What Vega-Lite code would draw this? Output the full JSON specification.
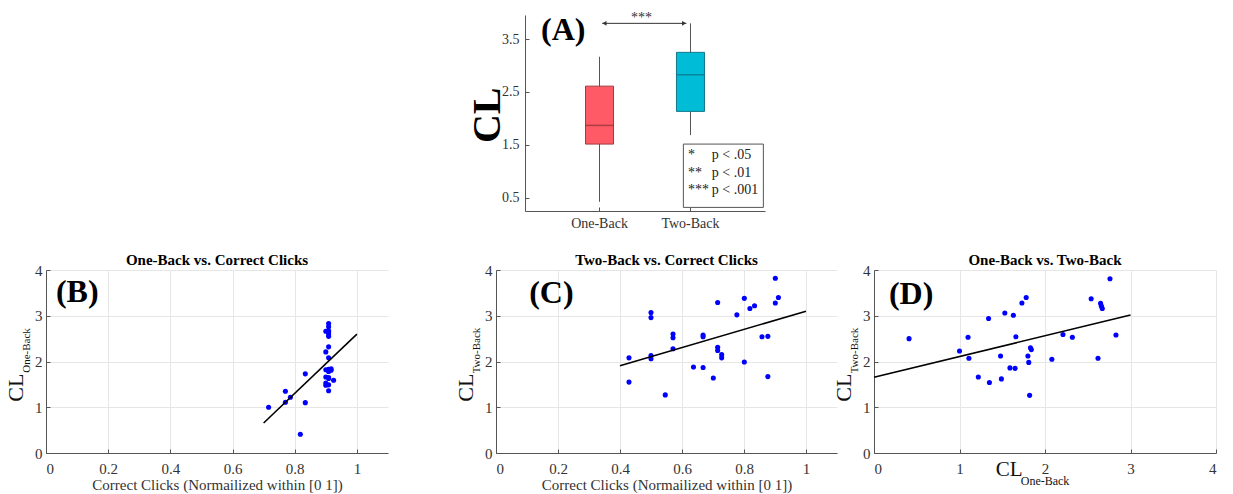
{
  "$schema": "https://vega.github.io/schema/vega-lite/v6.json",
  "background": "white",
  "padding": {"left": 4, "top": 10, "right": 5, "bottom": 5},
  "spacing": 23,
  "datasets": {
    "boxes": [
      {"task": "One-Back", "min": 0.424, "q1": 1.515, "median": 1.868, "q3": 2.61, "max": 3.166},
      {"task": "Two-Back", "min": 1.685, "q1": 2.133, "median": 2.825, "q3": 3.249, "max": 3.797}
    ],
    "B": [
      {"clicks": 0.716, "cl": 1.00}, {"clicks": 0.77, "cl": 1.35}, {"clicks": 0.77, "cl": 1.11},
      {"clicks": 0.786, "cl": 1.22}, {"clicks": 0.834, "cl": 1.73}, {"clicks": 0.834, "cl": 1.10},
      {"clicks": 0.818, "cl": 0.41},
      {"clicks": 0.909, "cl": 2.83}, {"clicks": 0.909, "cl": 2.76}, {"clicks": 0.909, "cl": 2.67},
      {"clicks": 0.900, "cl": 2.66}, {"clicks": 0.909, "cl": 2.65}, {"clicks": 0.909, "cl": 2.60},
      {"clicks": 0.909, "cl": 2.55}, {"clicks": 0.909, "cl": 2.32}, {"clicks": 0.900, "cl": 2.21},
      {"clicks": 0.909, "cl": 2.08}, {"clicks": 0.917, "cl": 1.84}, {"clicks": 0.909, "cl": 1.83},
      {"clicks": 0.900, "cl": 1.82}, {"clicks": 0.917, "cl": 1.81}, {"clicks": 0.909, "cl": 1.80},
      {"clicks": 0.909, "cl": 1.78}, {"clicks": 0.900, "cl": 1.66}, {"clicks": 0.909, "cl": 1.65},
      {"clicks": 0.909, "cl": 1.63}, {"clicks": 0.925, "cl": 1.59}, {"clicks": 0.900, "cl": 1.53},
      {"clicks": 0.909, "cl": 1.49}, {"clicks": 0.900, "cl": 1.48}, {"clicks": 0.909, "cl": 1.36}
    ],
    "B_fit": [{"clicks": 0.7, "cl": 0.655}, {"clicks": 1.0, "cl": 2.60}],
    "C": [
      {"clicks": 0.901, "cl": 3.82}, {"clicks": 0.911, "cl": 3.40}, {"clicks": 0.901, "cl": 3.28},
      {"clicks": 0.715, "cl": 3.29}, {"clicks": 0.801, "cl": 3.38}, {"clicks": 0.819, "cl": 3.16},
      {"clicks": 0.834, "cl": 3.22}, {"clicks": 0.777, "cl": 3.02}, {"clicks": 0.5, "cl": 3.07},
      {"clicks": 0.5, "cl": 2.96}, {"clicks": 0.571, "cl": 2.60}, {"clicks": 0.571, "cl": 2.52},
      {"clicks": 0.668, "cl": 2.58}, {"clicks": 0.668, "cl": 2.54}, {"clicks": 0.858, "cl": 2.54},
      {"clicks": 0.877, "cl": 2.55}, {"clicks": 0.571, "cl": 2.28}, {"clicks": 0.715, "cl": 2.31},
      {"clicks": 0.715, "cl": 2.24}, {"clicks": 0.728, "cl": 2.15}, {"clicks": 0.728, "cl": 2.08},
      {"clicks": 0.429, "cl": 2.08}, {"clicks": 0.5, "cl": 2.13}, {"clicks": 0.5, "cl": 2.06},
      {"clicks": 0.801, "cl": 1.99}, {"clicks": 0.637, "cl": 1.88}, {"clicks": 0.668, "cl": 1.87},
      {"clicks": 0.701, "cl": 1.64}, {"clicks": 0.877, "cl": 1.67}, {"clicks": 0.429, "cl": 1.55},
      {"clicks": 0.546, "cl": 1.27}
    ],
    "C_fit": [{"clicks": 0.4, "cl": 1.905}, {"clicks": 1.0, "cl": 3.10}],
    "D": [
      {"one_back": 0.41, "two_back": 2.50}, {"one_back": 1.00, "two_back": 2.23}, {"one_back": 1.10, "two_back": 2.53},
      {"one_back": 1.11, "two_back": 2.07}, {"one_back": 1.22, "two_back": 1.66}, {"one_back": 1.34, "two_back": 2.94},
      {"one_back": 1.35, "two_back": 1.54}, {"one_back": 1.48, "two_back": 2.12}, {"one_back": 1.49, "two_back": 1.62},
      {"one_back": 1.53, "two_back": 3.06}, {"one_back": 1.59, "two_back": 1.86}, {"one_back": 1.63, "two_back": 3.01},
      {"one_back": 1.65, "two_back": 1.85}, {"one_back": 1.66, "two_back": 2.54}, {"one_back": 1.73, "two_back": 3.28},
      {"one_back": 1.78, "two_back": 3.40}, {"one_back": 1.80, "two_back": 2.12}, {"one_back": 1.81, "two_back": 1.98},
      {"one_back": 1.82, "two_back": 1.26}, {"one_back": 1.83, "two_back": 2.30}, {"one_back": 1.84, "two_back": 2.26},
      {"one_back": 2.08, "two_back": 2.05}, {"one_back": 2.21, "two_back": 2.59}, {"one_back": 2.32, "two_back": 2.53},
      {"one_back": 2.54, "two_back": 3.37}, {"one_back": 2.62, "two_back": 2.07}, {"one_back": 2.65, "two_back": 3.27},
      {"one_back": 2.66, "two_back": 3.21}, {"one_back": 2.67, "two_back": 3.16}, {"one_back": 2.76, "two_back": 3.81},
      {"one_back": 2.83, "two_back": 2.58}
    ],
    "D_fit": [{"one_back": 0, "two_back": 1.657}, {"one_back": 3.0, "two_back": 3.015}]
  },
  "vconcat": [
    {
      "bounds": "flush",
      "spacing": 37,
      "hconcat": [
        {"width": 442, "height": 196, "data": {"values": []}, "mark": "point"},
        {
          "width": 240,
          "height": 196,
          "resolve": {"scale": {"x": "independent"}, "axis": {"x": "independent"}},
          "layer": [
            {
              "layer": [
                {
                  "data": {"name": "boxes"},
                  "mark": {"type": "rule", "color": "#555", "strokeWidth": 1},
                  "encoding": {
                    "x": {"field": "task", "type": "nominal", "sort": null,
                      "scale": {"type": "band", "paddingInner": 0.692, "paddingOuter": 0.665},
                      "axis": {"title": null, "labelAngle": 0, "labelFontSize": 14, "tickSize": -4, "labelPadding": 9, "grid": false}},
                    "y": {"field": "min", "type": "quantitative",
                      "scale": {"domain": [0.25, 3.955], "nice": false, "zero": false},
                      "axis": {"title": null, "values": [0.5, 1, 1.5, 2, 2.5, 3, 3.5], "grid": false, "labelFontSize": 14, "tickSize": -4, "labelPadding": 10,
                        "labelExpr": "datum.value % 1 == 0 ? '' : format(datum.value, '.1f')"}},
                    "y2": {"field": "max"}
                  }
                },
                {
                  "data": {"name": "boxes"},
                  "mark": {"type": "bar", "strokeWidth": 1},
                  "encoding": {
                    "x": {"field": "task", "type": "nominal", "sort": null},
                    "y": {"field": "q1", "type": "quantitative"},
                    "y2": {"field": "q3"},
                    "fill": {"field": "task", "type": "nominal", "legend": null, "scale": {"domain": ["One-Back", "Two-Back"], "range": ["#ff5a65", "#00bcd6"]}},
                    "stroke": {"field": "task", "type": "nominal", "legend": null, "scale": {"domain": ["One-Back", "Two-Back"], "range": ["#9a3c42", "#16798a"]}}
                  }
                },
                {
                  "data": {"name": "boxes"},
                  "mark": {"type": "tick", "orient": "horizontal", "size": 28, "thickness": 1.5},
                  "encoding": {
                    "x": {"field": "task", "type": "nominal", "sort": null},
                    "y": {"field": "median", "type": "quantitative"},
                    "color": {"field": "task", "type": "nominal", "legend": null, "scale": {"domain": ["One-Back", "Two-Back"], "range": ["#8a2f36", "#0f6f80"]}}
                  }
                }
              ]
            },
            {
              "layer": [
                {
                  "data": {"values": [{}]},
                  "mark": {"type": "rect", "fill": "white", "stroke": "#555", "strokeWidth": 1},
                  "encoding": {
                    "x": {"datum": 1.927, "type": "quantitative", "scale": {"domain": [0.187, 2.824], "nice": false, "zero": false}, "axis": null},
                    "x2": {"datum": 2.806},
                    "y": {"datum": 1.515, "type": "quantitative"},
                    "y2": {"datum": 0.318}
                  }
                },
                {
                  "data": {"values": [{}]},
                  "mark": {"type": "text", "text": ["*", "**", "***"], "font": "Liberation Serif", "fontSize": 14, "align": "left", "baseline": "middle", "lineHeight": 17.5, "color": "#222"},
                  "encoding": {
                    "x": {"datum": 1.978, "type": "quantitative", "axis": null},
                    "y": {"datum": 1.307, "type": "quantitative"}
                  }
                },
                {
                  "data": {"values": [{}]},
                  "mark": {"type": "text", "text": ["p < .05", "p < .01", "p < .001"], "font": "Liberation Serif", "fontSize": 14, "align": "left", "baseline": "middle", "lineHeight": 17.5, "color": "#222"},
                  "encoding": {
                    "x": {"datum": 2.239, "type": "quantitative", "axis": null},
                    "y": {"datum": 1.307, "type": "quantitative"}
                  }
                },
                {
                  "data": {"values": [{}]},
                  "mark": {"type": "rule", "color": "#333", "strokeWidth": 1},
                  "encoding": {
                    "x": {"datum": 1.035, "type": "quantitative", "axis": null},
                    "x2": {"datum": 1.96},
                    "y": {"datum": 3.797, "type": "quantitative"}
                  }
                },
                {
                  "data": {"values": [{}]},
                  "mark": {"type": "point", "shape": "triangle-left", "filled": true, "size": 22, "color": "#333", "opacity": 1},
                  "encoding": {
                    "x": {"datum": 1.06, "type": "quantitative", "axis": null},
                    "y": {"datum": 3.797, "type": "quantitative"}
                  }
                },
                {
                  "data": {"values": [{}]},
                  "mark": {"type": "point", "shape": "triangle-right", "filled": true, "size": 22, "color": "#333", "opacity": 1},
                  "encoding": {
                    "x": {"datum": 1.935, "type": "quantitative", "axis": null},
                    "y": {"datum": 3.797, "type": "quantitative"}
                  }
                },
                {
                  "data": {"values": [{}]},
                  "mark": {"type": "text", "text": "***", "font": "Liberation Serif", "fontSize": 14, "align": "center", "baseline": "middle", "color": "#333"},
                  "encoding": {
                    "x": {"datum": 1.467, "type": "quantitative", "axis": null},
                    "y": {"datum": 3.905, "type": "quantitative"}
                  }
                },
                {
                  "data": {"values": [{}]},
                  "mark": {"type": "text", "text": "(A)", "font": "Liberation Serif", "fontSize": 32, "fontWeight": "bold", "align": "left", "baseline": "alphabetic", "color": "#000"},
                  "encoding": {
                    "x": {"datum": 0.363, "type": "quantitative", "axis": null},
                    "y": {"datum": 3.48, "type": "quantitative"}
                  }
                },
                {
                  "data": {"values": [{}]},
                  "mark": {"type": "text", "text": "CL", "font": "Liberation Serif", "fontSize": 40, "fontWeight": "bold", "align": "center", "baseline": "middle", "angle": 270, "color": "#000"},
                  "encoding": {
                    "x": {"datum": -0.225, "type": "quantitative", "axis": null},
                    "y": {"datum": 2.06, "type": "quantitative"}
                  }
                }
              ]
            }
          ]
        }
      ]
    },
    {
      "bounds": "flush",
      "spacing": 37,
      "hconcat": [
        {
          "width": 342,
          "height": 183,
          "title": {"text": "One-Back vs. Correct Clicks"},
          "layer": [
            {
              "data": {"name": "B"},
              "mark": {"type": "circle", "size": 26, "color": "#0000ff", "opacity": 1},
              "encoding": {
                "x": {"field": "clicks", "type": "quantitative", "scale": {"domain": [0, 1.1], "nice": false},
                  "axis": {"title": "Correct Clicks (Normailized within [0 1])", "values": [0, 0.2, 0.4, 0.6, 0.8, 1], "labelExpr": "'' + datum.value"}},
                "y": {"field": "cl", "type": "quantitative", "scale": {"domain": [0, 4], "nice": false},
                  "axis": {"title": null, "values": [0, 1, 2, 3, 4], "labelExpr": "'' + datum.value", "labelPadding": 8}}
              }
            },
            {
              "data": {"name": "B_fit"},
              "mark": {"type": "line", "color": "#000", "strokeWidth": 1.6},
              "encoding": {
                "x": {"field": "clicks", "type": "quantitative"},
                "y": {"field": "cl", "type": "quantitative"}
              }
            },
            {
              "data": {"values": [{}]},
              "mark": {"type": "text", "text": "(B)", "font": "Liberation Serif", "fontSize": 32, "fontWeight": "bold", "align": "left", "baseline": "alphabetic", "color": "#000"},
              "encoding": {"x": {"datum": 0.032, "type": "quantitative"}, "y": {"datum": 3.31, "type": "quantitative"}}
            },
            {
              "data": {"values": [{}]},
              "mark": {"type": "text", "text": "CL", "font": "Liberation Serif", "fontSize": 22, "align": "center", "baseline": "middle", "angle": 270, "color": "#111"},
              "encoding": {"x": {"datum": -0.097, "type": "quantitative"}, "y": {"datum": 1.43, "type": "quantitative"}}
            },
            {
              "data": {"values": [{}]},
              "mark": {"type": "text", "text": "One-Back", "font": "Liberation Serif", "fontSize": 11, "align": "center", "baseline": "middle", "angle": 270, "color": "#111"},
              "encoding": {"x": {"datum": -0.061, "type": "quantitative"}, "y": {"datum": 2.24, "type": "quantitative"}}
            }
          ]
        },
        {"width": 34, "height": 183, "data": {"values": []}, "mark": "point"},
        {
          "width": 341,
          "height": 183,
          "title": {"text": "Two-Back vs. Correct Clicks"},
          "layer": [
            {
              "data": {"name": "C"},
              "mark": {"type": "circle", "size": 26, "color": "#0000ff", "opacity": 1},
              "encoding": {
                "x": {"field": "clicks", "type": "quantitative", "scale": {"domain": [0, 1.1], "nice": false},
                  "axis": {"title": "Correct Clicks (Normailized within [0 1])", "values": [0, 0.2, 0.4, 0.6, 0.8, 1], "labelExpr": "'' + datum.value"}},
                "y": {"field": "cl", "type": "quantitative", "scale": {"domain": [0, 4], "nice": false},
                  "axis": {"title": null, "values": [0, 1, 2, 3, 4], "labelExpr": "'' + datum.value", "labelPadding": 8}}
              }
            },
            {
              "data": {"name": "C_fit"},
              "mark": {"type": "line", "color": "#000", "strokeWidth": 1.6},
              "encoding": {
                "x": {"field": "clicks", "type": "quantitative"},
                "y": {"field": "cl", "type": "quantitative"}
              }
            },
            {
              "data": {"values": [{}]},
              "mark": {"type": "text", "text": "(C)", "font": "Liberation Serif", "fontSize": 32, "fontWeight": "bold", "align": "left", "baseline": "alphabetic", "color": "#000"},
              "encoding": {"x": {"datum": 0.107, "type": "quantitative"}, "y": {"datum": 3.28, "type": "quantitative"}}
            },
            {
              "data": {"values": [{}]},
              "mark": {"type": "text", "text": "CL", "font": "Liberation Serif", "fontSize": 22, "align": "center", "baseline": "middle", "angle": 270, "color": "#111"},
              "encoding": {"x": {"datum": -0.097, "type": "quantitative"}, "y": {"datum": 1.43, "type": "quantitative"}}
            },
            {
              "data": {"values": [{}]},
              "mark": {"type": "text", "text": "Two-Back", "font": "Liberation Serif", "fontSize": 11, "align": "center", "baseline": "middle", "angle": 270, "color": "#111"},
              "encoding": {"x": {"datum": -0.061, "type": "quantitative"}, "y": {"datum": 2.24, "type": "quantitative"}}
            }
          ]
        },
        {
          "width": 342,
          "height": 183,
          "title": {"text": "One-Back vs. Two-Back"},
          "layer": [
            {
              "data": {"name": "D"},
              "mark": {"type": "circle", "size": 26, "color": "#0000ff", "opacity": 1},
              "encoding": {
                "x": {"field": "one_back", "type": "quantitative", "scale": {"domain": [0, 4], "nice": false},
                  "axis": {"title": null, "values": [0, 1, 2, 3, 4], "labelExpr": "'' + datum.value"}},
                "y": {"field": "two_back", "type": "quantitative", "scale": {"domain": [0, 4], "nice": false},
                  "axis": {"title": null, "values": [0, 1, 2, 3, 4], "labelExpr": "'' + datum.value", "labelPadding": 8}}
              }
            },
            {
              "data": {"name": "D_fit"},
              "mark": {"type": "line", "color": "#000", "strokeWidth": 1.6},
              "encoding": {
                "x": {"field": "one_back", "type": "quantitative"},
                "y": {"field": "two_back", "type": "quantitative"}
              }
            },
            {
              "data": {"values": [{}]},
              "mark": {"type": "text", "text": "(D)", "font": "Liberation Serif", "fontSize": 32, "fontWeight": "bold", "align": "left", "baseline": "alphabetic", "color": "#000"},
              "encoding": {"x": {"datum": 0.175, "type": "quantitative"}, "y": {"datum": 3.26, "type": "quantitative"}}
            },
            {
              "data": {"values": [{}]},
              "mark": {"type": "text", "text": "CL", "font": "Liberation Serif", "fontSize": 22, "align": "center", "baseline": "middle", "angle": 270, "color": "#111"},
              "encoding": {"x": {"datum": -0.351, "type": "quantitative"}, "y": {"datum": 1.43, "type": "quantitative"}}
            },
            {
              "data": {"values": [{}]},
              "mark": {"type": "text", "text": "Two-Back", "font": "Liberation Serif", "fontSize": 11, "align": "center", "baseline": "middle", "angle": 270, "color": "#111"},
              "encoding": {"x": {"datum": -0.222, "type": "quantitative"}, "y": {"datum": 2.24, "type": "quantitative"}}
            },
            {
              "data": {"values": [{}]},
              "mark": {"type": "text", "text": "CL", "font": "Liberation Serif", "fontSize": 21, "align": "left", "baseline": "alphabetic", "color": "#111"},
              "encoding": {"x": {"datum": 1.423, "type": "quantitative"}, "y": {"datum": -0.51, "type": "quantitative"}}
            },
            {
              "data": {"values": [{}]},
              "mark": {"type": "text", "text": "One-Back", "font": "Liberation Serif", "fontSize": 12, "align": "left", "baseline": "alphabetic", "color": "#111"},
              "encoding": {"x": {"datum": 1.716, "type": "quantitative"}, "y": {"datum": -0.69, "type": "quantitative"}}
            }
          ]
        }
      ]
    }
  ],
  "config": {
    "view": {"stroke": null},
    "font": "Liberation Serif",
    "title": {"font": "Liberation Serif", "fontSize": 15, "fontWeight": "bold", "color": "#000", "anchor": "middle", "frame": "group", "offset": -5, "baseline": "alphabetic"},
    "axis": {
      "labelFont": "Liberation Serif", "titleFont": "Liberation Serif",
      "labelColor": "#333", "titleColor": "#333",
      "labelFontSize": 15, "titleFontSize": 15, "titleFontWeight": "normal",
      "domainColor": "#555", "tickColor": "#555", "gridColor": "#e6e6e6",
      "grid": true, "tickSize": -4, "labelPadding": 12, "titlePadding": 1
    }
  }
}
